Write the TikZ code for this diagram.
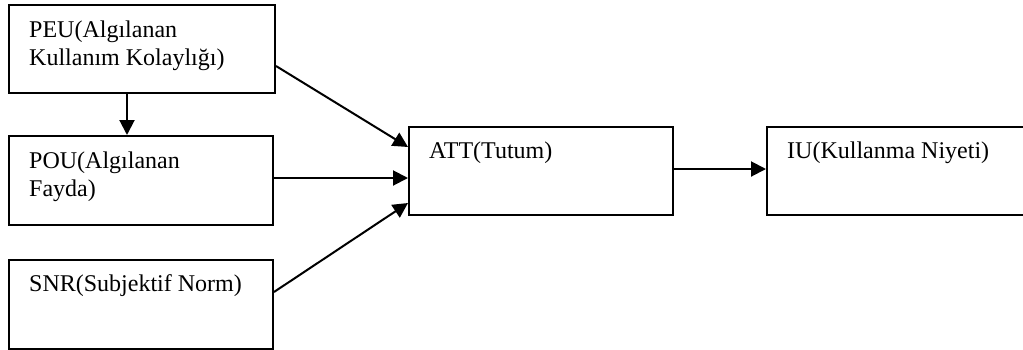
\documentclass[tikz,border=0pt]{standalone}
\usepackage{fontspec}
\setmainfont{Liberation Serif}
\usetikzlibrary{arrows.meta}
\begin{document}
\begin{tikzpicture}[x=1pt,y=-1pt,
  box/.style={draw=black,line width=2pt,rectangle,inner sep=0pt,anchor=north west},
  lbl/.style={anchor=base west,inner sep=0pt,font=\fontsize{24}{28}\selectfont},
  conn/.style={line width=2pt,-{Triangle[length=15pt,width=15pt]}}]
\clip (0,0) rectangle (1023,349);
\fill[white] (0,0) rectangle (1023,349);
\node[box,minimum width=266pt,minimum height=88pt] (PEU) at (8,4) {};
\node[box,minimum width=264pt,minimum height=89pt] (POU) at (8,135) {};
\node[box,minimum width=264pt,minimum height=89pt] (SNR) at (8,259) {};
\node[box,minimum width=264pt,minimum height=88pt] (ATT) at (408,126) {};
\node[box,minimum width=275pt,minimum height=88pt] (IU) at (766,126) {};
\node[lbl] (tPEU1) at (29,37) {PEU(Algılanan};
\node[lbl] (tPEU2) at (29,65) {Kullanım Kolaylığı)};
\node[lbl] (tPOU1) at (29,168) {POU(Algılanan};
\node[lbl] (tPOU2) at (29,196) {Fayda)};
\node[lbl] (tSNR) at (29,291) {SNR(Subjektif Norm)};
\node[lbl] (tATT) at (429,158) {ATT(Tutum)};
\node[lbl] (tIU) at (787,158) {IU(Kullanma Niyeti)};
\draw[conn] (PEU.south -| 127,0) -- (POU.north -| 127,0);
\draw[conn] (PEU.east |- 0,66) -- (ATT.west |- 0,147);
\draw[conn] (POU.east |- 0,178) -- (ATT.west |- 0,178);
\draw[conn] (SNR.east |- 0,292) -- (ATT.west |- 0,203);
\draw[conn] (ATT.east |- 0,169) -- (IU.west |- 0,169);
\end{tikzpicture}
\end{document}
